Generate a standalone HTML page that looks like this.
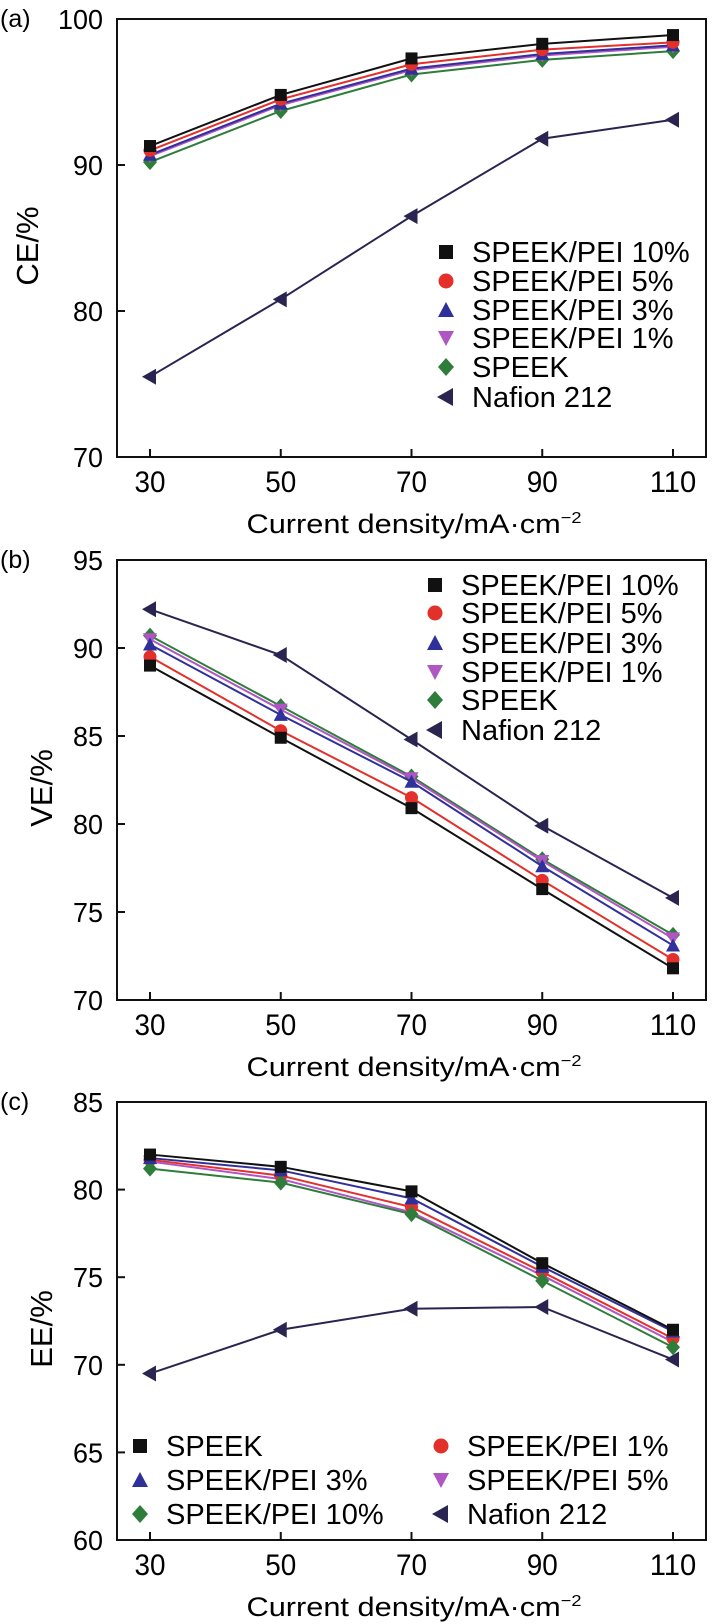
<!DOCTYPE html>
<html><head><meta charset="utf-8"><style>
html,body{margin:0;padding:0;background:#fff;}
svg{display:block;font-family:"Liberation Sans",sans-serif;}
</style></head><body>
<svg id="fig" width="718" height="1624" viewBox="0 0 718 1624" xmlns="http://www.w3.org/2000/svg"></svg>
<script>
const xCats = [30, 50, 70, 90, 110];
// Panel (a) CE
const aTicks = [70, 80, 90, 100];
const aNames = ["SPEEK/PEI 10%", "SPEEK/PEI 5%", "SPEEK/PEI 3%", "SPEEK/PEI 1%", "SPEEK", "Nafion 212"];
const aPEI10 = [91.3, 94.8, 97.3, 98.3, 98.9];
const aPEI5 = [91.0, 94.5, 96.9, 97.9, 98.4];
const aPEI3 = [90.7, 94.2, 96.6, 97.6, 98.2];
const aPEI1 = [90.6, 94.1, 96.5, 97.5, 98.1];
const aSPEEK = [90.2, 93.7, 96.2, 97.2, 97.8];
const aNafion = [75.5, 80.8, 86.5, 91.8, 93.1];
// Panel (b) VE
const bTicks = [70, 75, 80, 85, 90, 95];
const bNames = ["SPEEK/PEI 10%", "SPEEK/PEI 5%", "SPEEK/PEI 3%", "SPEEK/PEI 1%", "SPEEK", "Nafion 212"];
const bPEI10 = [89.0, 84.9, 80.9, 76.3, 71.8];
const bPEI5 = [89.5, 85.3, 81.5, 76.8, 72.3];
const bPEI3 = [90.2, 86.2, 82.4, 77.6, 73.1];
const bPEI1 = [90.5, 86.5, 82.6, 77.9, 73.5];
const bSPEEK = [90.7, 86.7, 82.7, 78.0, 73.7];
const bNafion = [92.2, 89.6, 84.8, 79.9, 75.8];
// Panel (c) EE
const cTicks = [60, 65, 70, 75, 80, 85];
const cNames = ["SPEEK", "SPEEK/PEI 3%", "SPEEK/PEI 10%", "SPEEK/PEI 1%", "SPEEK/PEI 5%", "Nafion 212"];
const cSPEEK = [82.0, 81.3, 79.9, 75.8, 72.0];
const cPEI3 = [81.8, 81.1, 79.5, 75.6, 71.9];
const cPEI10 = [81.2, 80.4, 78.6, 74.8, 71.0];
const cPEI1 = [81.7, 80.8, 79.0, 75.3, 71.5];
const cPEI5 = [81.6, 80.6, 78.7, 75.1, 71.3];
const cNafion = [69.5, 72.0, 73.2, 73.3, 70.3];

const NS = "http://www.w3.org/2000/svg";
const svg = document.getElementById("fig");
const COL = {black:"#111111", red:"#e3302b", blue:"#30309a", mag:"#b055c4", green:"#2f7d3a", naf:"#2a2550"};
function mk(tag, attrs, parent){
  const e = document.createElementNS(NS, tag);
  for (const k in attrs) e.setAttribute(k, attrs[k]);
  (parent || svg).appendChild(e);
  return e;
}
const X0 = 117, X1 = 706;
function xs(v){ return 150 + (v - 30) / 80 * 523; }
function marker(g, shape, cx, cy, color, s){
  let el;
  if (shape === "sq") el = mk("rect", {x:cx-s, y:cy-s, width:2*s, height:2*s, fill:color}, g);
  else if (shape === "ci") el = mk("circle", {cx:cx, cy:cy, r:s+0.5, fill:color}, g);
  else if (shape === "up") el = mk("polygon", {points:`${cx},${cy-s-1} ${cx+s+1},${cy+s} ${cx-s-1},${cy+s}`, fill:color}, g);
  else if (shape === "dn") el = mk("polygon", {points:`${cx-s-1},${cy-s} ${cx+s+1},${cy-s} ${cx},${cy+s+1}`, fill:color}, g);
  else if (shape === "di") el = mk("polygon", {points:`${cx},${cy-s-2} ${cx+s+1},${cy} ${cx},${cy+s+2} ${cx-s-1},${cy}`, fill:color}, g);
  else el = mk("polygon", {points:`${cx-s-2},${cy} ${cx+s},${cy-s-2} ${cx+s},${cy+s+2}`, fill:color}, g);
  return el;
}
function panel(p){
  const ys = v => p.top + (p.ymax - v) / (p.ymax - p.ymin) * (p.bot - p.top);
  const g = mk("g", {});
  
  
  const lab = mk("text", {x:0, y:p.top+8, "font-size":25}, g);
  lab.textContent = p.label;
  
  
  const fr = mk("rect", {x:X0, y:p.top, width:X1-X0, height:p.bot-p.top, fill:"none", stroke:"#111", "stroke-width":2}, g);
  
  
  p.ticks.forEach(t => {
    const y = ys(t);
    mk("line", {x1:X0, x2:X0+8, y1:y, y2:y, stroke:"#111", "stroke-width":2}, g);
    const tl = mk("text", {x:103, y:y+10, "text-anchor":"end", "font-size":28, textLength:String(t).length*15, lengthAdjust:"spacingAndGlyphs"}, g);
    tl.textContent = t;
    
    
  });
  xCats.forEach(c => {
    const x = xs(c);
    mk("line", {x1:x, x2:x, y1:p.bot, y2:p.bot-8, stroke:"#111", "stroke-width":2}, g);
    const tl = mk("text", {x:x, y:p.bot+35, "text-anchor":"middle", "font-size":30, textLength:String(c).length*15.5, lengthAdjust:"spacingAndGlyphs"}, g);
    tl.textContent = c;
    
    
  });
  const xt = mk("text", {x:414, y:p.bot+76, "text-anchor":"middle", "font-size":27, textLength:335, lengthAdjust:"spacingAndGlyphs"}, g);
  xt.innerHTML = 'Current density/mA·cm<tspan dy="-10" font-size="16">−2</tspan>';
  
  
  const cy = (p.top + p.bot) / 2 + 8;
  const yt = mk("text", {x:0, y:0, "text-anchor":"middle", "font-size":31, transform:`translate(${p.ytx},${cy}) rotate(-90)`}, g);
  yt.textContent = p.ytitle;
  
  
  for (let i = p.series.length - 1; i >= 0; i--){
    const s = p.series[i];
    const sg = mk("g", {}, g);
    
    
    const pts = s.vals.map((v, j) => xs(xCats[j]) + "," + ys(v)).join(" ");
    const pl = mk("polyline", {points:pts, fill:"none", stroke:s.color, "stroke-width":2}, sg);
    
    
    s.vals.forEach((v, j) => {
      const m = marker(sg, s.shape, xs(xCats[j]), ys(v), s.color, 6);
      
      
    });
  }
  const lg = mk("g", {}, g);
  
  
  p.series.forEach((s, i) => {
    const pos = p.legendPos[i];
    const m = marker(lg, s.shape, pos[0], pos[1], s.color, 7);
    
    
    const t = mk("text", {x:pos[0]+26, y:pos[1]+10, "font-size":29}, lg);
    t.textContent = s.name;
    
    
  });
}
const shapesAB = ["sq","ci","up","dn","di","lt"];
const colsAB = [COL.black, COL.red, COL.blue, COL.mag, COL.green, COL.naf];
const aVals = [aPEI10, aPEI5, aPEI3, aPEI1, aSPEEK, aNafion];
const bVals = [bPEI10, bPEI5, bPEI3, bPEI1, bSPEEK, bNafion];
panel({id:"ce", label:"(a)", top:19, bot:457, ymin:70, ymax:100, ticks:aTicks, ytitle:"CE/%", ytx:38,
  series:aNames.map((n,i)=>({name:n, vals:aVals[i], shape:shapesAB[i], color:colsAB[i]})),
  legendPos:[[446,252],[446,281],[446,310],[446,338],[446,367],[446,397]]});
panel({id:"ve", label:"(b)", top:560, bot:1000, ymin:70, ymax:95, ticks:bTicks, ytitle:"VE/%", ytx:52,
  series:bNames.map((n,i)=>({name:n, vals:bVals[i], shape:shapesAB[i], color:colsAB[i]})),
  legendPos:[[435,585],[435,613],[435,643],[435,672],[435,700],[435,730]]});
const cVals = [cSPEEK, cPEI3, cPEI10, cPEI1, cPEI5, cNafion];
const shapesC = ["sq","up","di","ci","dn","lt"];
const colsC = [COL.black, COL.blue, COL.green, COL.red, COL.mag, COL.naf];
panel({id:"ee", label:"(c)", top:1102, bot:1540, ymin:60, ymax:85, ticks:cTicks, ytitle:"EE/%", ytx:52,
  series:cNames.map((n,i)=>({name:n, vals:cVals[i], shape:shapesC[i], color:colsC[i]})),
  legendPos:[[140,1446],[140,1480],[140,1514],[441,1446],[441,1480],[441,1514]]});
</script>
</body></html>
